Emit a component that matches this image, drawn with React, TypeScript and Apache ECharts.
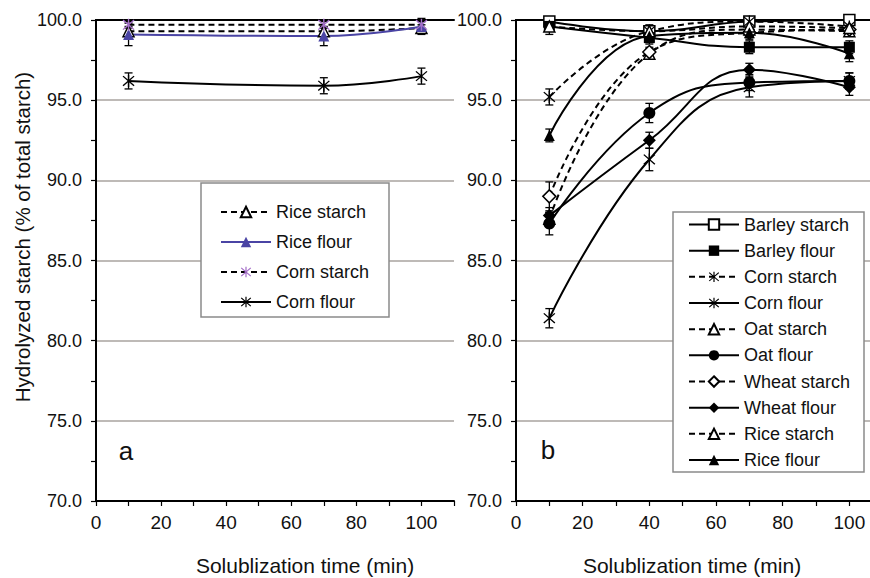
import { useEffect, useRef } from "react";
import * as echarts from "echarts";

// ---- Panel a: starch and flour from rice and corn ----
const timesA = [10, 70, 100];
const riceStarchA = [99.3, 99.3, 99.5];
const riceStarchAErr = [0.3, 0.2, 0.2];
const riceFlourA = [99.1, 99.0, 99.6];
const riceFlourAErr = [0.7, 0.6, 0.5];
const cornStarchA = [99.7, 99.7, 99.7];
const cornStarchAErr = [0.2, 0.2, 0.2];
const cornFlourA = [96.2, 95.9, 96.5];
const cornFlourAErr = [0.5, 0.5, 0.5];

// ---- Panel b: five cereals ----
const timesB = [10, 40, 70, 100];
const barleyStarchB = [99.9, 99.3, 99.9, 100.0];
const barleyStarchBErr = [0.2, 0.3, 0.2, 0.2];
const barleyFlourB = [99.6, 98.9, 98.3, 98.3];
const barleyFlourBErr = [0.5, 0.4, 0.4, 0.4];
const cornStarchB = [95.2, 99.3, 99.9, 99.6];
const cornStarchBErr = [0.5, 0.4, 0.3, 0.3];
const cornFlourB = [81.4, 91.3, 95.8, 96.2];
const cornFlourBErr = [0.6, 0.7, 0.6, 0.5];
const oatStarchB = [87.6, 97.9, 99.4, 99.3];
const oatStarchBErr = [0.4, 0.3, 0.3, 0.3];
const oatFlourB = [87.3, 94.2, 96.1, 96.2];
const oatFlourBErr = [0.7, 0.6, 0.5, 0.5];
const wheatStarchB = [89.0, 98.0, 99.2, 99.4];
const wheatStarchBErr = [0.9, 0.3, 0.3, 0.3];
const wheatFlourB = [87.8, 92.5, 96.9, 95.8];
const wheatFlourBErr = [0.5, 0.5, 0.4, 0.5];
const riceStarchB = [99.6, 99.3, 99.6, 99.5];
const riceStarchBErr = [0.3, 0.3, 0.3, 0.3];
const riceFlourB = [92.8, 99.0, 99.2, 97.9];
const riceFlourBErr = [0.4, 0.4, 0.4, 0.5];

// ---- Axes ----
const xMin = 0;
const xMax = 110;
const xStep = 10;
const xLabelStep = 20;
const xLabelMax = 100;
const yMin = 70;
const yMax = 100;
const yStep = 5;

const FONT = "'Liberation Sans', Arial, Helvetica, sans-serif";
const GRID_COLOR = "#a8a39f";
const BLUE = "#4a44a4";
const PURPLE = "#a46fc8";
const ASTERISK =
  "path://M9 0H11V20H9Z M1.3 2.7L2.7 1.3L18.7 17.3L17.3 18.7Z M17.3 1.3L18.7 2.7L2.7 18.7L1.3 17.3Z";

type Marker = "openTri" | "tri" | "openRect" | "rect" | "star" | "circle" | "openDiamond" | "diamond";

interface SeriesDef {
  name: string;
  times: number[];
  values: number[];
  errors: number[];
  dashed: boolean;
  marker: Marker;
  lineColor: string;
  markerColor: string;
}

const panelA: SeriesDef[] = [
  { name: "Rice starch", times: timesA, values: riceStarchA, errors: riceStarchAErr, dashed: true, marker: "openTri", lineColor: "#000", markerColor: "#000" },
  { name: "Rice flour", times: timesA, values: riceFlourA, errors: riceFlourAErr, dashed: false, marker: "tri", lineColor: BLUE, markerColor: BLUE },
  { name: "Corn starch", times: timesA, values: cornStarchA, errors: cornStarchAErr, dashed: true, marker: "star", lineColor: "#000", markerColor: PURPLE },
  { name: "Corn flour", times: timesA, values: cornFlourA, errors: cornFlourAErr, dashed: false, marker: "star", lineColor: "#000", markerColor: "#000" },
];

// names in panel b carry a trailing space so each legend finds its own series
const panelB: SeriesDef[] = [
  { name: "Barley starch ", times: timesB, values: barleyStarchB, errors: barleyStarchBErr, dashed: false, marker: "openRect", lineColor: "#000", markerColor: "#000" },
  { name: "Barley flour ", times: timesB, values: barleyFlourB, errors: barleyFlourBErr, dashed: false, marker: "rect", lineColor: "#000", markerColor: "#000" },
  { name: "Corn starch ", times: timesB, values: cornStarchB, errors: cornStarchBErr, dashed: true, marker: "star", lineColor: "#000", markerColor: "#000" },
  { name: "Corn flour ", times: timesB, values: cornFlourB, errors: cornFlourBErr, dashed: false, marker: "star", lineColor: "#000", markerColor: "#000" },
  { name: "Oat starch ", times: timesB, values: oatStarchB, errors: oatStarchBErr, dashed: true, marker: "openTri", lineColor: "#000", markerColor: "#000" },
  { name: "Oat flour ", times: timesB, values: oatFlourB, errors: oatFlourBErr, dashed: false, marker: "circle", lineColor: "#000", markerColor: "#000" },
  { name: "Wheat starch ", times: timesB, values: wheatStarchB, errors: wheatStarchBErr, dashed: true, marker: "openDiamond", lineColor: "#000", markerColor: "#000" },
  { name: "Wheat flour ", times: timesB, values: wheatFlourB, errors: wheatFlourBErr, dashed: false, marker: "diamond", lineColor: "#000", markerColor: "#000" },
  { name: "Rice starch ", times: timesB, values: riceStarchB, errors: riceStarchBErr, dashed: true, marker: "openTri", lineColor: "#000", markerColor: "#000" },
  { name: "Rice flour ", times: timesB, values: riceFlourB, errors: riceFlourBErr, dashed: false, marker: "tri", lineColor: "#000", markerColor: "#000" },
];

function markerStyle(m: Marker, color: string) {
  const open = m === "openTri" || m === "openRect" || m === "openDiamond";
  const symbol =
    m === "openTri" || m === "tri"
      ? "triangle"
      : m === "openRect" || m === "rect"
      ? "rect"
      : m === "openDiamond" || m === "diamond"
      ? "diamond"
      : m === "circle"
      ? "circle"
      : ASTERISK;
  const size = m === "star" ? 12 : m === "circle" ? 12 : m === "diamond" || m === "openDiamond" ? 13 : 11;
  const itemStyle = open
    ? { color: "#fff", borderColor: color, borderWidth: 1.5 }
    : { color, borderColor: color, borderWidth: 0 };
  return { symbol, symbolSize: size, itemStyle };
}

function lineSeries(def: SeriesDef, axis: number) {
  const mk = markerStyle(def.marker, def.markerColor);
  return {
    type: "line",
    name: def.name,
    xAxisIndex: axis * 2,
    yAxisIndex: axis * 2,
    data: def.times.map((t, i) => [t, def.values[i]]),
    smooth: 0.45,
    showSymbol: true,
    symbol: mk.symbol,
    symbolSize: mk.symbolSize,
    itemStyle: mk.itemStyle,
    lineStyle: {
      color: def.lineColor,
      width: 2,
      type: def.dashed ? [6, 4] : "solid",
    },
    z: 3,
  };
}

function errorSeries(def: SeriesDef, axis: number) {
  return {
    type: "custom",
    name: def.name + "err",
    xAxisIndex: axis * 2,
    yAxisIndex: axis * 2,
    silent: true,
    z: 2,
    encode: { x: 0, y: [1, 2] },
    data: def.times.map((t, i) => [t, def.values[i] - def.errors[i], def.values[i] + def.errors[i]]),
    renderItem: (_p: any, api: any) => {
      const x = api.value(0);
      const lo = api.coord([x, api.value(1)]);
      const hi = api.coord([x, api.value(2)]);
      const w = 4;
      const st = { stroke: "#000", lineWidth: 1.3 };
      return {
        type: "group",
        children: [
          { type: "line", shape: { x1: lo[0], y1: lo[1], x2: hi[0], y2: hi[1] }, style: st },
          { type: "line", shape: { x1: lo[0] - w, y1: lo[1], x2: lo[0] + w, y2: lo[1] }, style: st },
          { type: "line", shape: { x1: hi[0] - w, y1: hi[1], x2: hi[0] + w, y2: hi[1] }, style: st },
        ],
      };
    },
  };
}

function bottomAxis(grid: number) {
  return {
    type: "value",
    gridIndex: grid,
    position: "bottom",
    min: xMin,
    max: xMax,
    interval: xStep,
    axisLine: { show: true, lineStyle: { color: "#000", width: 2 } },
    axisTick: { show: true, length: 5, lineStyle: { color: "#000", width: 1.2 } },
    axisLabel: {
      margin: 12,
      color: "#111",
      fontFamily: FONT,
      fontSize: 19,
      formatter: (v: number) => (v % xLabelStep === 0 && v <= xLabelMax ? String(v) : ""),
    },
    splitLine: { show: false },
  };
}

function topAxis(grid: number) {
  return {
    type: "value",
    gridIndex: grid,
    position: "top",
    min: xMin,
    max: xMax,
    axisLine: { show: true, lineStyle: { color: "#000", width: 2 } },
    axisTick: { show: false },
    axisLabel: { show: false },
    splitLine: { show: false },
  };
}

function leftAxis(grid: number) {
  return {
    type: "value",
    gridIndex: grid,
    position: "left",
    min: yMin,
    max: yMax,
    interval: yStep,
    axisLine: { show: true, lineStyle: { color: "#000", width: 2 } },
    axisTick: { show: true, length: 5, lineStyle: { color: "#000", width: 1.2 } },
    minorTick: { show: true, splitNumber: 2, length: 5, lineStyle: { color: "#000", width: 1.2 } },
    axisLabel: {
      margin: 14,
      color: "#111",
      fontFamily: FONT,
      fontSize: 18,
      formatter: (v: number) => v.toFixed(1),
    },
    splitLine: { show: true, lineStyle: { color: GRID_COLOR, width: 1.5 } },
  };
}

function rightAxis(grid: number) {
  return {
    type: "value",
    gridIndex: grid,
    position: "right",
    min: yMin,
    max: yMax,
    axisLine: { show: true, lineStyle: { color: "#000", width: 2 } },
    axisTick: { show: false },
    axisLabel: { show: false },
    splitLine: { show: false },
  };
}

function legendFor(defs: SeriesDef[], left: number, top: number, gap: number) {
  return {
    orient: "vertical",
    left,
    top,
    padding: 0,
    itemWidth: 50,
    itemHeight: 13,
    itemGap: gap,
    selectedMode: false,
    data: defs.map((d) => d.name),
    formatter: (n: string) => n.trim(),
    textStyle: { fontFamily: FONT, fontSize: 18, lineHeight: 20, color: "#111" },
    z: 10,
  };
}

export default function App() {
  const ref = useRef<HTMLDivElement>(null);

  useEffect(() => {
    if (!ref.current) return;
    const chart = echarts.init(ref.current, undefined, { renderer: "svg" });
    const series: any[] = [];
    panelA.forEach((d) => series.push(errorSeries(d, 0)));
    panelB.forEach((d) => series.push(errorSeries(d, 1)));
    panelA.forEach((d) => series.push(lineSeries(d, 0)));
    panelB.forEach((d) => series.push(lineSeries(d, 1)));

    chart.setOption({
      animation: false,
      backgroundColor: "#fff",
      grid: [
        { left: 96, top: 20, width: 358, height: 481, outerBoundsMode: "none" },
        // panel b runs past the right edge of the canvas
        { left: 516, top: 20, width: 366.7, height: 481, outerBoundsMode: "none" },
      ],
      xAxis: [bottomAxis(0), topAxis(0), bottomAxis(1), topAxis(1)],
      yAxis: [leftAxis(0), rightAxis(0), leftAxis(1), rightAxis(1)],
      legend: [legendFor(panelA, 220, 202, 10), legendFor(panelB, 688, 214.5, 6.17)],
      graphic: [
        { type: "rect", z: 5, shape: { x: 201, y: 183, width: 188, height: 134 }, style: { fill: "#fff", stroke: "#8a8a8a", lineWidth: 1.5 } },
        { type: "rect", z: 5, shape: { x: 673, y: 212, width: 191, height: 260 }, style: { fill: "#fff", stroke: "#8a8a8a", lineWidth: 1.5 } },
        { type: "text", z: 6, x: 126, y: 451, style: { text: "a", fontFamily: FONT, fontSize: 26, fill: "#111", align: "center", verticalAlign: "middle" } },
        { type: "text", z: 6, x: 548, y: 450, style: { text: "b", fontFamily: FONT, fontSize: 26, fill: "#111", align: "center", verticalAlign: "middle" } },
        { type: "text", z: 6, x: 305, y: 565, style: { text: "Solublization time (min)", fontFamily: FONT, fontSize: 21, fill: "#111", align: "center", verticalAlign: "middle" } },
        { type: "text", z: 6, x: 692, y: 565, style: { text: "Solublization time (min)", fontFamily: FONT, fontSize: 21, fill: "#111", align: "center", verticalAlign: "middle" } },
        { type: "text", z: 6, x: 22, y: 237, rotation: Math.PI / 2, style: { text: "Hydrolyzed starch (% of total starch)", fontFamily: FONT, fontSize: 20.5, fill: "#111", align: "center", verticalAlign: "middle" } },
      ],
      series,
    });
    return () => chart.dispose();
  }, []);

  return (
    <div
      ref={ref}
      style={{ position: "fixed", left: 0, top: 0, width: 870, height: 578, background: "#fff" }}
    />
  );
}
